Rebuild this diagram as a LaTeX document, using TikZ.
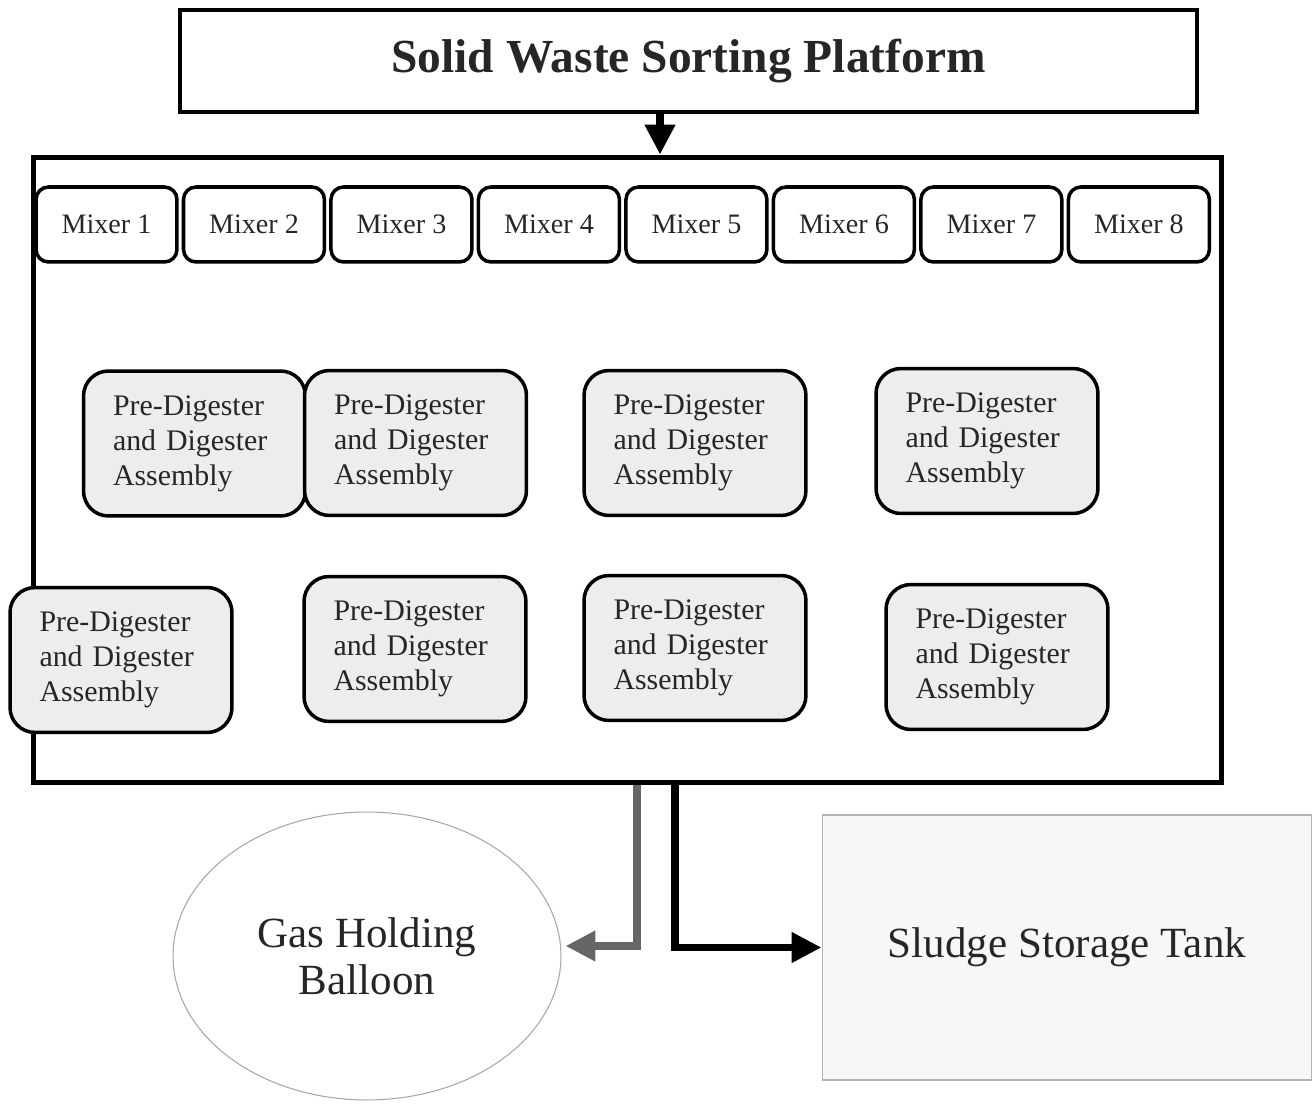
\documentclass[tikz,border=0pt]{standalone}
\usepackage{fontspec}
\setmainfont{Liberation Serif}
\usetikzlibrary{positioning,calc}
\usetikzlibrary{shapes.geometric, arrows.meta}
\tikzset{
  hd/.style={rectangle, minimum width=20.34cm, minimum height=2.04cm, text centered, draw=black, line width=2.6pt, font=\fontsize{27}{32}\selectfont\bfseries},
  bx/.style={rectangle, minimum width=23.78cm, minimum height=12.52cm, draw=black, line width=2.8pt},
  mx/.style={rectangle, rounded corners=0.25cm, minimum width=2.82cm, minimum height=1.5cm, text centered, draw=black, line width=2pt, fill=white, font=\fontsize{16}{19}\selectfont},
  pd/.style={rectangle, rounded corners=0.5cm, minimum width=4.44cm, minimum height=2.9cm, text width=3.26cm, inner xsep=0.59cm, align=left, draw=black, line width=2pt, fill=black!7, font=\fontsize{17}{20}\selectfont},
  gb/.style={ellipse, minimum width=7.76cm, minimum height=5.76cm, align=center, draw=black!35, line width=0.6pt, font=\fontsize{24.5}{27}\selectfont},
  tk/.style={rectangle, minimum width=9.8cm, minimum height=5.3cm, text centered, draw=black!30, fill=black!3, line width=0.6pt, font=\fontsize{24.5}{27}\selectfont},
  ar/.style={line width=4.5pt, -{Triangle[length=0.6cm,width=0.58cm]}},
  node distance=0.06cm
}
\begin{document}
\begin{tikzpicture}[x=0.02cm, y=-0.02cm, text=black!85]
	\useasboundingbox (0,0) rectangle (1316,1104);
	\node[hd] (title) at (688.5,61) {Solid Waste Sorting Platform};
	\node[bx] (plant) at (627.5,470) {};
	
	\node[mx] (m1) at (106.5,224.5) {Mixer 1};
	\node[mx, right=of m1] (m2) {Mixer 2};
	\node[mx, right=of m2] (m3) {Mixer 3};
	\node[mx, right=of m3] (m4) {Mixer 4};
	\node[mx, right=of m4] (m5) {Mixer 5};
	\node[mx, right=of m5] (m6) {Mixer 6};
	\node[mx, right=of m6] (m7) {Mixer 7};
	\node[mx, right=of m7] (m8) {Mixer 8};
	
	\node[pd] (pda) at (194.5,443.5) {Pre-Digester\\and Digester\\Assembly};
	\node[pd] (pdb) at (415.5,443) {Pre-Digester\\and Digester\\Assembly};
	\node[pd] (pdc) at (695,443) {Pre-Digester\\and Digester\\Assembly};
	\node[pd] (pdd) at (987,441) {Pre-Digester\\and Digester\\Assembly};
	\node[pd] (pde) at (121,660) {Pre-Digester\\and Digester\\Assembly};
	\node[pd] (pdf) at (415,649) {Pre-Digester\\and Digester\\Assembly};
	\node[pd] (pdg) at (695,648) {Pre-Digester\\and Digester\\Assembly};
	\node[pd] (pdh) at (997,657) {Pre-Digester\\and Digester\\Assembly};
	
	\node[gb] (balloon) at (367,956) {Gas Holding\\Balloon};
	\node[tk] (tank) at (1067,947.5) {Sludge Storage Tank};
	
	\draw[ar] ([xshift=-0.57cm]title.south) -- ([xshift=-0.57cm]title.south |- plant.north);
	\draw[ar, black!60] ([xshift=0.19cm]plant.south) |- ([xshift=0.08cm,yshift=0.2cm]balloon.east);
	\draw[ar] ([xshift=0.95cm]plant.south) |- (tank.west);
	
	\end{tikzpicture}
\end{document}
